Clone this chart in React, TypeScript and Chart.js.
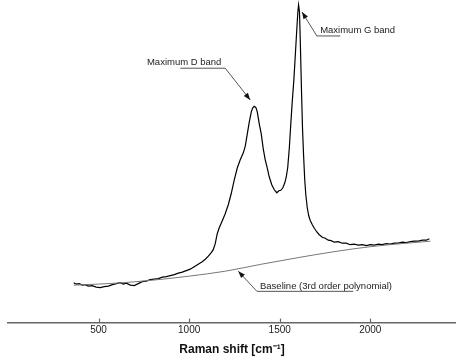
import React, { useEffect, useRef } from "react";
import { Chart, registerables } from "chart.js";

Chart.register(...registerables);

// Raman spectrum (wavenumber in cm^-1, intensity in arbitrary units)
const shift: number[] = [
  363, 377, 393, 410, 427, 443, 465, 487, 509, 531, 554, 576, 598, 620, 637, 653, 675, 697, 719, 741,
  763, 785, 807, 830, 852, 874, 896, 918, 940, 962, 984, 1006, 1028, 1050, 1072, 1089, 1106, 1122, 1133, 1144,
  1155, 1166, 1183, 1199, 1216, 1232, 1249, 1266, 1282, 1299, 1310, 1321, 1332, 1343, 1351, 1359, 1368, 1376, 1387, 1398,
  1409, 1420, 1431, 1442, 1456, 1470, 1484, 1495, 1506, 1517, 1528, 1536, 1544, 1553, 1561, 1569, 1578, 1586, 1594, 1600,
  1604, 1609, 1614, 1620, 1626, 1632, 1638, 1644, 1652, 1660, 1669, 1680, 1691, 1704, 1718, 1735, 1751, 1768, 1784, 1801,
  1823, 1845, 1867, 1889, 1911, 1933, 1956, 1978, 2000, 2022, 2044, 2066, 2088, 2110, 2132, 2154, 2176, 2199, 2221, 2243,
  2265, 2287, 2309, 2326,
];
const intensity: number[] = [
  40, 38.5, 39, 37.5, 38, 36.5, 37, 35.5, 35, 36, 36.5, 38, 39, 40, 38.5, 39.5, 37.5, 37, 39, 41,
  41.5, 43, 43.5, 44, 45.5, 46, 47, 48, 49.5, 50.5, 52, 53.5, 56, 58.5, 61, 63.5, 66.5, 70, 73, 79,
  89, 95, 102, 109, 118, 129, 143, 155, 163, 170, 177, 189, 201, 211, 215, 216.5, 215.5, 211, 199, 189,
  174, 163, 155, 146, 138, 133, 130, 132, 132.5, 135, 140, 146, 155, 175, 199, 221, 243, 268, 293, 311,
  318, 311, 278, 233, 193, 166, 143, 128, 115, 107, 102, 98, 94.5, 91, 88, 85.5, 84.5, 82.5, 82, 80.5,
  81, 79.5, 79.5, 78, 78.5, 77.5, 78, 77, 78, 77.5, 78.5, 78, 79, 78.5, 79.5, 79.5, 80.5, 80, 81, 81.5,
  81.5, 82.5, 82.5, 84,
];

// Fitted baseline (3rd order polynomial)
const baselineShift: number[] = [363, 600, 800, 1000, 1200, 1400, 1600, 1800, 2000, 2200, 2332];
const baselineIntensity: number[] = [37.5, 39.5, 42.5, 46.5, 51.5, 58.5, 65, 71, 76, 79.5, 81.5];

const xTicks: number[] = [500, 1000, 1500, 2000];
const xTitle = "Raman shift [cm⁻¹]";

// Annotations: label, text anchor (left, middle), leader path ending with arrow tip (data units)
const annotationLabels: string[] = ["Maximum D band", "Maximum G band", "Baseline (3rd order polynomial)"];
const annotationTextAt: number[][] = [
  [767, 261],
  [1723, 293],
  [1391, 36.3],
];
const annotationPaths: number[][][] = [
  [[951, 254.7], [1199, 254.7], [1337, 223]],
  [[1834, 287], [1705, 287], [1623, 311]],
  [[1906, 31.3], [1374, 31.3], [1271, 51.5]],
];

const overlayPlugin = {
  id: "overlay",
  afterDatasetsDraw(chart: any) {
    const ctx = chart.ctx as CanvasRenderingContext2D;
    const xs = chart.scales.x;
    const ys = chart.scales.y;
    const area = chart.chartArea;
    ctx.save();
    // inward tick marks
    ctx.strokeStyle = "#666";
    ctx.lineWidth = 1.2;
    for (const t of xs.ticks) {
      const px = Math.round(xs.getPixelForValue(t.value)) + 0.5;
      ctx.beginPath();
      ctx.moveTo(px, area.bottom);
      ctx.lineTo(px, area.bottom - 4);
      ctx.stroke();
    }
    // annotations
    ctx.font = "9.5px 'Liberation Sans', Arial, sans-serif";
    ctx.textBaseline = "middle";
    ctx.textAlign = "left";
    annotationLabels.forEach((label, i) => {
      const [tx, ty] = annotationTextAt[i];
      ctx.fillStyle = "#222";
      ctx.fillText(label, xs.getPixelForValue(tx), ys.getPixelForValue(ty));
      const pts = annotationPaths[i].map(([a, b]) => [xs.getPixelForValue(a), ys.getPixelForValue(b)]);
      ctx.strokeStyle = "#555";
      ctx.lineWidth = 1;
      ctx.beginPath();
      ctx.moveTo(pts[0][0], pts[0][1]);
      for (let k = 1; k < pts.length; k++) ctx.lineTo(pts[k][0], pts[k][1]);
      ctx.stroke();
      const [fx, fy] = pts[pts.length - 2];
      const [ex, ey] = pts[pts.length - 1];
      const ang = Math.atan2(ey - fy, ex - fx);
      const len = 7;
      const half = 2.6;
      ctx.fillStyle = "#111";
      ctx.beginPath();
      ctx.moveTo(ex, ey);
      ctx.lineTo(ex - len * Math.cos(ang) + half * Math.sin(ang), ey - len * Math.sin(ang) - half * Math.cos(ang));
      ctx.lineTo(ex - len * Math.cos(ang) - half * Math.sin(ang), ey - len * Math.sin(ang) + half * Math.cos(ang));
      ctx.closePath();
      ctx.fill();
    });
    ctx.restore();
  },
};

export default function App() {
  const ref = useRef<HTMLCanvasElement | null>(null);
  useEffect(() => {
    if (!ref.current) return;
    const chart = new Chart(ref.current, {
      type: "line",
      data: {
        datasets: [
          {
            label: "Baseline",
            data: baselineShift.map((x, i) => ({ x, y: baselineIntensity[i] })),
            borderColor: "#777",
            borderWidth: 1,
            pointRadius: 0,
            cubicInterpolationMode: "monotone",
            fill: false,
          },
          {
            label: "Spectrum",
            data: shift.map((x, i) => ({ x, y: intensity[i] })),
            borderColor: "#000",
            borderWidth: 1.2,
            pointRadius: 0,
            tension: 0,
            fill: false,
          },
        ],
      },
      options: {
        animation: false,
        responsive: true,
        maintainAspectRatio: false,
        layout: { padding: { left: 8, right: 0, top: 0, bottom: 0 } },
        plugins: { legend: { display: false }, tooltip: { enabled: false } },
        scales: {
          x: {
            type: "linear",
            min: 0,
            max: 2473,
            afterBuildTicks: (scale: any) => {
              scale.ticks = xTicks.map((v) => ({ value: v }));
            },
            grid: { display: false, drawTicks: false },
            border: { display: true, color: "#666", width: 1.5 },
            ticks: {
              padding: 2,
              color: "#222",
              font: { family: "'Liberation Sans', Arial, sans-serif", size: 10 },
              maxRotation: 0,
              autoSkip: false,
              callback: (v: any) => String(v),
            },
            title: {
              display: true,
              text: xTitle,
              color: "#111",
              font: { family: "'Liberation Sans', Arial, sans-serif", size: 12, weight: "bold" },
              padding: { top: 4, bottom: 0 },
            },
          },
          y: { type: "linear", display: false, min: 0, max: 323 },
        },
      },
      plugins: [overlayPlugin],
    });
    return () => chart.destroy();
  }, []);
  return (
    <div style={{ position: "absolute", left: 0, top: 0, width: 456, height: 357 }}>
      <canvas ref={ref} />
    </div>
  );
}
